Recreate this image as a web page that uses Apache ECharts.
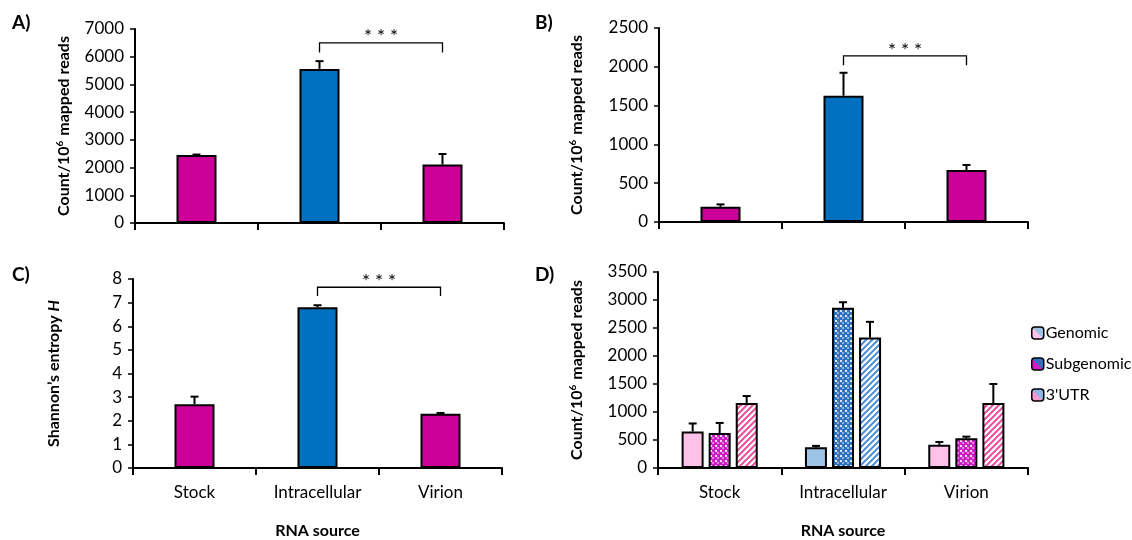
<!DOCTYPE html>
<html>
<head>
<meta charset="utf-8">
<script src="https://cdn.jsdelivr.net/npm/echarts@6/dist/echarts.min.js"></script>
<style>
  html, body { margin: 0; padding: 0; background: #fff; }
  #main { width: 1132px; height: 540px; }
</style>
</head>
<body>
<div id="main"></div>
<script>
// data
var categories = ['Stock', 'Intracellular', 'Virion'];

var aMean = [2450, 5560, 2110];
var aSd   = [20, 280, 380];
var bMean = [197, 1628, 670];
var bSd   = [30, 295, 65];
var cMean = [2.7, 6.8, 2.3];
var cSd   = [0.32, 0.09, 0.03];

var dNames = ['Genomic', 'Subgenomic', "3'UTR"];
var dGenomic      = [650, 370, 415];
var dGenomicSd    = [145, 25, 50];
var dSubgenomic   = [625, 2860, 530];
var dSubgenomicSd = [180, 100, 30];
var dUtr          = [1160, 2330, 1160];
var dUtrSd        = [125, 280, 340];

// significance brackets: [fromCat, toCat, level, footEnd]
var sigA = [1, 2, 6500, 6150];
var sigB = [1, 2, 2140, 2020];
var sigC = [1, 2, 7.65, 7.28];

var yTicksA = [0, 7000, 1000];
var yTicksB = [0, 2500, 500];
var yTicksC = [0, 8, 1];
var yTicksD = [0, 3500, 500];

var FONT = 'Lato';
var MAGENTA = '#CC0099';
var BLUE = '#0070C0';

// ---- fills for panel D ----
function dotFill(base) {
  var c = document.createElement('canvas');
  c.width = 5; c.height = 5;
  var g = c.getContext('2d');
  g.fillStyle = base; g.fillRect(0, 0, 5, 5);
  g.fillStyle = 'rgba(255,255,255,0.85)';
  g.fillRect(0, 0, 2, 2);
  g.fillStyle = 'rgba(255,255,255,0.45)';
  g.fillRect(2, 2, 2, 2);
  return { image: c, repeat: 'repeat' };
}
function stripeFill(col) {
  var c = document.createElement('canvas');
  c.width = 6; c.height = 6;
  var g = c.getContext('2d');
  g.fillStyle = '#ffffff'; g.fillRect(0, 0, 6, 6);
  g.strokeStyle = col; g.lineWidth = 2;
  g.beginPath();
  g.moveTo(-1, 7); g.lineTo(7, -1);
  g.moveTo(-4, 4); g.lineTo(4, -4);
  g.moveTo(2, 10); g.lineTo(10, 2);
  g.stroke();
  return { image: c, repeat: 'repeat' };
}
function split(c1, c2) {
  return { type: 'linear', x: 0, y: 1, x2: 1, y2: 0, colorStops: [
    { offset: 0, color: c1 }, { offset: 0.5, color: c1 },
    { offset: 0.5, color: c2 }, { offset: 1, color: c2 }] };
}

var pinkFills = ['#FFC1E8', dotFill('#D01CC4'), stripeFill('#E8509E')];
var blueFills = ['#9DC3E6', dotFill('#2E72C4'), stripeFill('#4F8FD6')];
var legendFills = [split('#FFC1E8', '#9DC3E6'), split('#D01CC4', '#2E72C4'), split('#F39AD0', '#8DB6E6')];

function colored(vals, pink, blue) {
  return vals.map(function (v, i) {
    return { value: v, itemStyle: { color: i === 1 ? blue : pink } };
  });
}

// ---- error bars and brackets ----
function errorRender(offset) {
  return function (params, api) {
    var base = api.coord([api.value(0), api.value(1)]);
    var top = api.coord([api.value(0), api.value(1) + api.value(2)]);
    var x = base[0] + offset;
    var st = { stroke: '#000', lineWidth: 2 };
    return { type: 'group', children: [
      { type: 'line', shape: { x1: x, y1: base[1], x2: x, y2: top[1] }, style: st },
      { type: 'line', shape: { x1: x - 4, y1: top[1], x2: x + 4, y2: top[1] }, style: st }
    ] };
  };
}
function errorSeries(idx, mean, sd, offset) {
  return {
    type: 'custom', xAxisIndex: idx, yAxisIndex: idx, z: 5, silent: true,
    renderItem: errorRender(offset || 0),
    encode: { x: 0, y: 1 },
    data: mean.map(function (m, i) { return [i, m, sd[i]]; })
  };
}
function bracketSeries(idx, s) {
  return {
    type: 'custom', xAxisIndex: idx, yAxisIndex: idx, z: 5, silent: true,
    encode: { x: [0, 1], y: [2, 3] },
    data: [s],
    renderItem: function (params, api) {
      var p1 = api.coord([api.value(0), api.value(2)]);
      var p2 = api.coord([api.value(1), api.value(2)]);
      var f = api.coord([api.value(0), api.value(3)]);
      return { type: 'group', children: [
        { type: 'polyline', shape: { points: [[p1[0], f[1]], p1, p2, [p2[0], f[1]]] },
          style: { stroke: '#000', lineWidth: 1.3, fill: null } },
        { type: 'text', x: (p1[0] + p2[0]) / 2, y: p1[1] + 4,
          style: { text: '* * *', fontSize: 19, fontFamily: FONT, fill: '#000',
                   align: 'center', verticalAlign: 'bottom' } }
      ] };
    }
  };
}

function grid(l, t, w, h) { return { left: l, top: t, width: w, height: h }; }

function xAxis(idx, withLabels) {
  return {
    type: 'category', gridIndex: idx, data: categories,
    name: withLabels ? 'RNA source' : '', nameLocation: 'middle', nameGap: 55,
    nameTextStyle: { fontFamily: FONT, fontSize: 16, fontWeight: 'bold', color: '#000' },
    axisLine: { lineStyle: { color: '#000', width: 2 } },
    axisTick: { show: true, length: 7, lineStyle: { color: '#000', width: 2 } },
    axisLabel: { show: withLabels, margin: 16, fontFamily: FONT, fontSize: 17, color: '#000' }
  };
}
function yAxis(idx, ticks, name, gap) {
  return {
    type: 'value', gridIndex: idx, min: ticks[0], max: ticks[1], interval: ticks[2],
    name: name, nameLocation: 'middle', nameGap: gap,
    nameTextStyle: { fontFamily: FONT, fontSize: 16, fontWeight: 'bold', color: '#000',
      rich: {
        a: { fontFamily: FONT, fontSize: 16, fontWeight: 'bold', color: '#000', lineHeight: 18 },
        s: { fontFamily: FONT, fontSize: 10, fontWeight: 'bold', color: '#000', lineHeight: 18, verticalAlign: 'top', padding: [0, 1, 6, 0] },
        i: { fontFamily: FONT, fontSize: 16, fontWeight: 'bold', fontStyle: 'italic', color: '#000', lineHeight: 18 }
      } },
    splitLine: { show: false },
    axisLine: { show: true, lineStyle: { color: '#000', width: 2 } },
    axisTick: { show: true, length: 5, lineStyle: { color: '#000', width: 1.5 } },
    axisLabel: { margin: 11, fontFamily: FONT, fontSize: 17, color: '#000',
      formatter: function (v) { return String(v); } }
  };
}

var countName = '{a|Count/10}{s|6}{a| mapped reads}';
var barStyle = { borderColor: '#000', borderWidth: 2 };

function simpleBars(idx, mean) {
  return {
    type: 'bar', xAxisIndex: idx, yAxisIndex: idx, barWidth: 40,
    itemStyle: barStyle,
    data: mean.map(function (v, i) {
      return { value: v, itemStyle: { color: i === 1 ? BLUE : MAGENTA } };
    })
  };
}
function groupBars(k, vals) {
  return {
    type: 'bar', name: dNames[k], xAxisIndex: 3, yAxisIndex: 3,
    barWidth: 22, barGap: '23%',
    itemStyle: { color: legendFills[k], borderColor: '#000', borderWidth: 2 },
    data: colored(vals, pinkFills[k], blueFills[k])
  };
}

var option = {
  backgroundColor: '#fff',
  animation: false,
  title: [
    { text: 'A)', left: 12, top: 13 },
    { text: 'B)', left: 535, top: 13 },
    { text: 'C)', left: 12, top: 265 },
    { text: 'D)', left: 535, top: 265 }
  ].map(function (t) {
    t.padding = 0;
    t.textStyle = { fontFamily: FONT, fontSize: 19, fontWeight: 'bold', color: '#000' };
    return t;
  }),
  legend: {
    orient: 'vertical', left: 1026, top: 320, itemWidth: 12, itemHeight: 12, itemGap: 15,
    data: dNames,
    textStyle: { fontFamily: FONT, fontSize: 16, color: '#000', padding: [0, 0, 0, -3] },
    itemStyle: { borderColor: '#000', borderWidth: 1.5 }
  },
  grid: [grid(135, 29, 369, 194), grid(659, 28, 369, 194), grid(133, 279, 369, 194), grid(658, 272, 370, 202)],
  xAxis: [xAxis(0, false), xAxis(1, false), xAxis(2, true), xAxis(3, true)],
  yAxis: [
    yAxis(0, yTicksA, countName, 62),
    yAxis(1, yTicksB, countName, 73),
    yAxis(2, yTicksC, '{a|Shannon\u2019s entropy }{i|H}', 70),
    yAxis(3, yTicksD, countName, 72)
  ],
  series: [
    simpleBars(0, aMean), errorSeries(0, aMean, aSd), bracketSeries(0, sigA),
    simpleBars(1, bMean), errorSeries(1, bMean, bSd), bracketSeries(1, sigB),
    simpleBars(2, cMean), errorSeries(2, cMean, cSd), bracketSeries(2, sigC),
    groupBars(0, dGenomic), groupBars(1, dSubgenomic), groupBars(2, dUtr),
    errorSeries(3, dGenomic, dGenomicSd, -27),
    errorSeries(3, dSubgenomic, dSubgenomicSd, 0),
    errorSeries(3, dUtr, dUtrSd, 27)
  ]
};

var chart = echarts.init(document.getElementById('main'));
chart.setOption(option);
</script>
</body>
</html>
